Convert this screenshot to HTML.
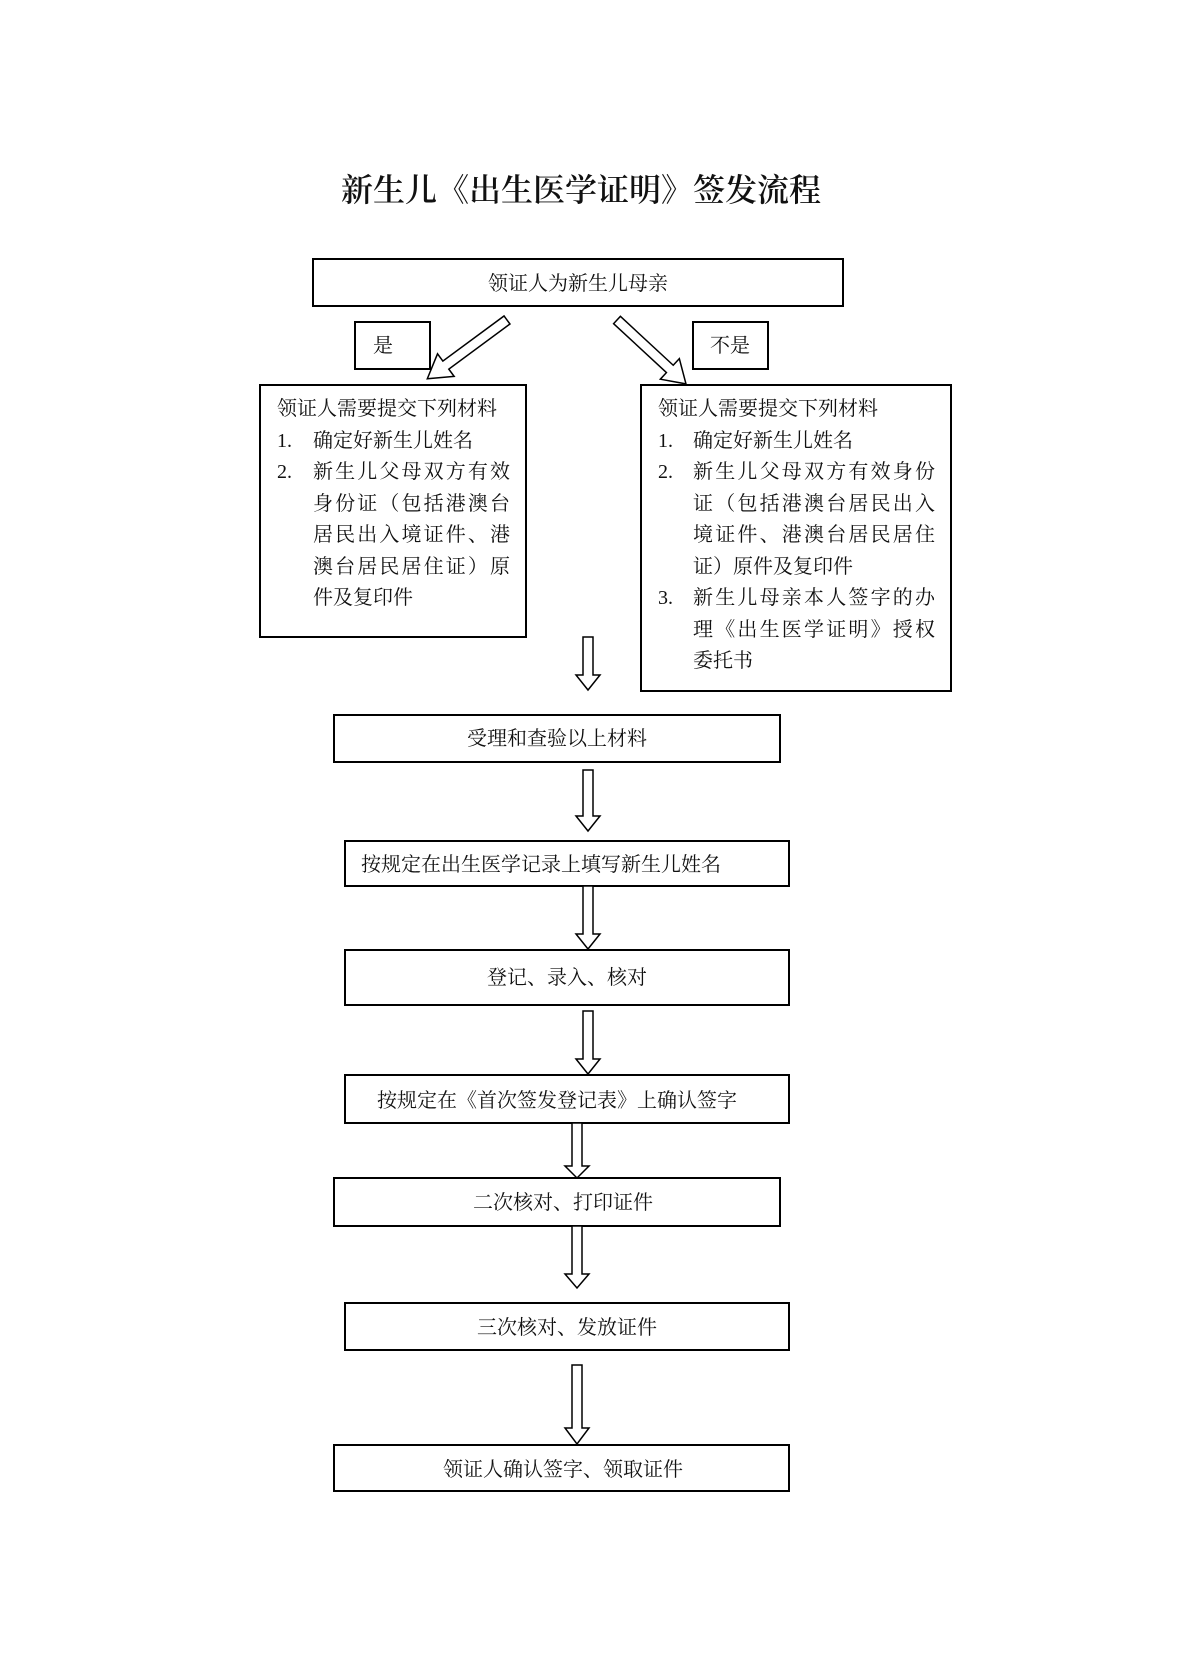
<!DOCTYPE html>
<html><head><meta charset="utf-8"><style>
body{margin:0;background:#fff;}
svg text{font-family:"Liberation Serif","Noto Serif CJK SC",serif;fill:#111;}
</style></head><body>
<svg width="1200" height="1674" xmlns="http://www.w3.org/2000/svg">
<text x="581" y="201" font-size="32" font-weight="600" text-anchor="middle">新生儿《出生医学证明》签发流程</text>
<g fill="none" stroke="#000" stroke-width="2">
<rect x="313" y="259" width="530" height="47"/>
<rect x="355" y="322" width="75" height="47"/>
<rect x="693" y="322" width="75" height="47"/>
<rect x="260" y="385" width="266" height="252"/>
<rect x="641" y="385" width="310" height="306"/>
<rect x="334" y="715" width="446" height="47"/>
<rect x="345" y="841" width="444" height="45"/>
<rect x="345" y="950" width="444" height="55"/>
<rect x="345" y="1075" width="444" height="48"/>
<rect x="334" y="1178" width="446" height="48"/>
<rect x="345" y="1303" width="444" height="47"/>
<rect x="334" y="1445" width="455" height="46"/>
</g>
<g fill="#fff" stroke="#000" stroke-width="1.5">
<polygon transform="translate(507,320) rotate(143.6)" points="0,-5 76,-5 76,-14 99,0 76,14 76,5 0,5"/>
<polygon transform="translate(617,320) rotate(42.8)" points="0,-5 72,-5 72,-14 94,0 72,14 72,5 0,5"/>
<polygon transform="translate(588,637) rotate(90)" points="0,-5 38,-5 38,-12 53,0 38,12 38,5 0,5"/>
<polygon transform="translate(588,770) rotate(90)" points="0,-5 46,-5 46,-12 61,0 46,12 46,5 0,5"/>
<polygon transform="translate(588,886) rotate(90)" points="0,-5 48,-5 48,-12 63,0 48,12 48,5 0,5"/>
<polygon transform="translate(588,1011) rotate(90)" points="0,-5 48,-5 48,-12 63,0 48,12 48,5 0,5"/>
<polygon transform="translate(577,1123) rotate(90)" points="0,-5 43,-5 43,-12 55,0 43,12 43,5 0,5"/>
<polygon transform="translate(577,1226) rotate(90)" points="0,-5 48,-5 48,-12 62,0 48,12 48,5 0,5"/>
<polygon transform="translate(577,1365) rotate(90)" points="0,-5 63,-5 63,-12 79,0 63,12 63,5 0,5"/>
</g>
<g font-size="20">
<text x="578" y="290" text-anchor="middle">领证人为新生儿母亲</text>
<text x="373" y="352">是</text>
<text x="710" y="352">不是</text>
<text x="277" y="415">领证人需要提交下列材料</text>
<text x="277" y="447">1.</text><text x="313" y="447">确定好新生儿姓名</text>
<text x="277" y="478">2.</text><text x="313" y="478" textLength="197">新生儿父母双方有效</text>
<text x="313" y="510" textLength="197">身份证（包括港澳台</text>
<text x="313" y="541" textLength="197">居民出入境证件、港</text>
<text x="313" y="573" textLength="197">澳台居民居住证）原</text>
<text x="313" y="604">件及复印件</text>
<text x="658" y="415">领证人需要提交下列材料</text>
<text x="658" y="447">1.</text><text x="693" y="447">确定好新生儿姓名</text>
<text x="658" y="478">2.</text><text x="693" y="478" textLength="242">新生儿父母双方有效身份</text>
<text x="693" y="510" textLength="242">证（包括港澳台居民出入</text>
<text x="693" y="541" textLength="242">境证件、港澳台居民居住</text>
<text x="693" y="573">证）原件及复印件</text>
<text x="658" y="604">3.</text><text x="693" y="604" textLength="242">新生儿母亲本人签字的办</text>
<text x="693" y="636" textLength="242">理《出生医学证明》授权</text>
<text x="693" y="667">委托书</text>
<text x="557" y="745" text-anchor="middle">受理和查验以上材料</text>
<text x="361" y="871">按规定在出生医学记录上填写新生儿姓名</text>
<text x="567" y="984" text-anchor="middle">登记、录入、核对</text>
<text x="377" y="1107">按规定在《首次签发登记表》上确认签字</text>
<text x="563" y="1209" text-anchor="middle">二次核对、打印证件</text>
<text x="567" y="1334" text-anchor="middle">三次核对、发放证件</text>
<text x="563" y="1476" text-anchor="middle">领证人确认签字、领取证件</text>
</g>
</svg>
</body></html>
